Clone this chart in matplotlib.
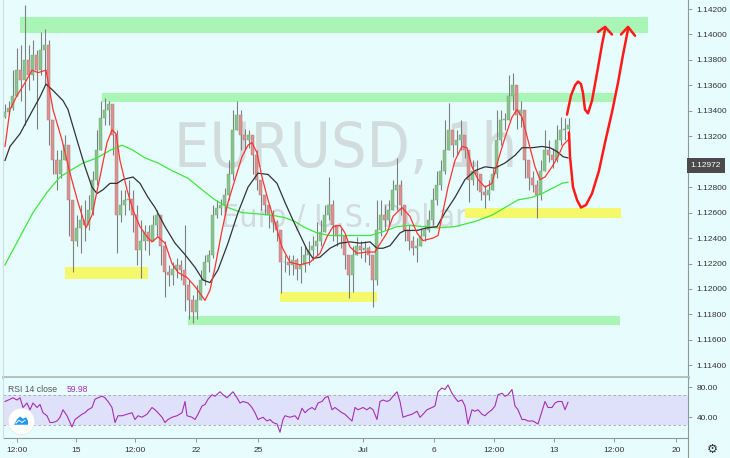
import numpy as np
import matplotlib.pyplot as plt
from matplotlib.ticker import MultipleLocator, FuncFormatter
from matplotlib.lines import Line2D
from matplotlib.transforms import blended_transform_factory

plt.rcParams['font.family'] = ['Liberation Sans', 'DejaVu Sans']

closes = [1.1339, 1.1342, 1.1352, 1.1372, 1.1364, 1.1380, 1.1368, 1.1384, 1.1372, 1.1388,
          1.1392, 1.1333, 1.1301, 1.1290, 1.1301, 1.1313, 1.1270, 1.1238, 1.1248, 1.1254,
          1.1250, 1.1262, 1.1286, 1.1309, 1.1334, 1.1341, 1.1345, 1.1321, 1.1258, 1.1266,
          1.1270, 1.1271, 1.1258, 1.1231, 1.1238, 1.1245, 1.1238, 1.1250, 1.1258, 1.1234,
          1.1213, 1.1211, 1.1216, 1.1219, 1.1215, 1.1203, 1.1191, 1.1182, 1.1191, 1.1207,
          1.1221, 1.1227, 1.1258, 1.1264, 1.1266, 1.1274, 1.1290, 1.1325, 1.1337, 1.1321,
          1.1317, 1.1321, 1.1305, 1.1286, 1.1274, 1.1266, 1.1258, 1.1253, 1.1246, 1.1221,
          1.1221, 1.1219, 1.1223, 1.1216, 1.1219, 1.1227, 1.1231, 1.1234, 1.1238, 1.1245,
          1.1258, 1.1266, 1.1250, 1.1242, 1.1242, 1.1227, 1.1211, 1.1227, 1.1234, 1.1231,
          1.1232, 1.1227, 1.1207, 1.1246, 1.1258, 1.1254, 1.1262, 1.1278, 1.1282, 1.1266,
          1.1246, 1.1238, 1.1232, 1.1234, 1.1242, 1.1246, 1.1254, 1.1270, 1.1282, 1.1293,
          1.1309, 1.1325, 1.1313, 1.1317, 1.1321, 1.1309, 1.1286, 1.1293, 1.1290, 1.1276,
          1.1274, 1.1278, 1.1290, 1.1317, 1.1333, 1.1333, 1.1352, 1.1360, 1.1337, 1.1341,
          1.1301, 1.1287, 1.1282, 1.1274, 1.1293, 1.1309, 1.1305, 1.1301, 1.1317, 1.1325,
          1.1326, 1.1329]
highs = [1.1345, 1.1348, 1.1372, 1.1389, 1.1392, 1.1423, 1.1392, 1.1396, 1.1388, 1.1402,
         1.1404, 1.1396, 1.1317, 1.1309, 1.1309, 1.1321, 1.1309, 1.1262, 1.1258, 1.1266,
         1.1270, 1.1274, 1.1293, 1.1325, 1.1348, 1.1350, 1.1348, 1.1342, 1.1325, 1.1278,
         1.1278, 1.1286, 1.1278, 1.1266, 1.1254, 1.1250, 1.1250, 1.1258, 1.1262, 1.1258,
         1.1238, 1.1219, 1.1221, 1.1224, 1.1223, 1.1250, 1.1207, 1.1195, 1.1203, 1.1215,
         1.1227, 1.1231, 1.1266, 1.1270, 1.1271, 1.1279, 1.1301, 1.1341, 1.1348, 1.1341,
         1.1326, 1.1325, 1.1321, 1.1309, 1.1286, 1.1274, 1.1266, 1.1262, 1.1254, 1.1246,
         1.1227, 1.1227, 1.1227, 1.1224, 1.1234, 1.1234, 1.1238, 1.1242, 1.1253, 1.1254,
         1.1266, 1.1288, 1.1270, 1.1250, 1.1248, 1.1238, 1.1227, 1.1234, 1.1241, 1.1238,
         1.1238, 1.1234, 1.1227, 1.1270, 1.1270, 1.1266, 1.1270, 1.1286, 1.1303, 1.1286,
         1.1262, 1.1250, 1.1242, 1.1240, 1.1248, 1.1250, 1.1262, 1.1279, 1.1293, 1.1301,
         1.1333, 1.1346, 1.1326, 1.1325, 1.1333, 1.1317, 1.1309, 1.1301, 1.1301, 1.1286,
         1.1282, 1.1286, 1.1295, 1.1341, 1.1341, 1.1338, 1.1368, 1.1370, 1.1348, 1.1348,
         1.1337, 1.1297, 1.1293, 1.1286, 1.1301, 1.1325, 1.1317, 1.1311, 1.1329, 1.1335,
         1.1334, 1.1334]
lows = [1.1334, 1.1337, 1.1341, 1.1352, 1.1348, 1.1329, 1.1356, 1.1364, 1.1326, 1.1368,
        1.1360, 1.1313, 1.1290, 1.1278, 1.1287, 1.1301, 1.1242, 1.1213, 1.1234, 1.1228,
        1.1238, 1.1246, 1.1258, 1.1282, 1.1317, 1.1329, 1.1329, 1.1305, 1.1228, 1.1253,
        1.1258, 1.1262, 1.1245, 1.1219, 1.1209, 1.1231, 1.1227, 1.1238, 1.1242, 1.1219,
        1.1194, 1.1202, 1.1203, 1.1209, 1.1207, 1.1183, 1.1176, 1.1173, 1.1176, 1.1195,
        1.1203, 1.1213, 1.1224, 1.1256, 1.1258, 1.1258, 1.1270, 1.1286, 1.1325, 1.1309,
        1.1309, 1.1311, 1.1290, 1.1278, 1.1262, 1.1258, 1.1248, 1.1245, 1.1238, 1.1197,
        1.1213, 1.1211, 1.1211, 1.1207, 1.1205, 1.1213, 1.1219, 1.1223, 1.1227, 1.1234,
        1.1246, 1.1254, 1.1238, 1.1234, 1.1232, 1.1216, 1.1193, 1.1198, 1.1227, 1.1224,
        1.1221, 1.1219, 1.1186, 1.1203, 1.1242, 1.1246, 1.1250, 1.1262, 1.1262, 1.1258,
        1.1238, 1.1231, 1.1227, 1.1221, 1.1237, 1.1238, 1.1245, 1.1250, 1.1266, 1.1278,
        1.1290, 1.1309, 1.1304, 1.1305, 1.1309, 1.1303, 1.1268, 1.1282, 1.1278, 1.1270,
        1.1264, 1.1270, 1.1278, 1.1287, 1.1313, 1.1325, 1.1333, 1.1341, 1.1326, 1.1327,
        1.1287, 1.1278, 1.1276, 1.1256, 1.1270, 1.1297, 1.1300, 1.1295, 1.1300, 1.1313,
        1.1317, 1.1323]
first_open = 1.1335
last_price = 1.12972

# gleitende Durchschnitte (rot, schwarz, gruen)
ma_fast_x = [5, 10, 17, 25, 32, 38, 46, 53, 62, 70, 78, 86, 92, 100, 107, 112, 116, 120, 127, 133,
             140, 147, 152, 158, 165, 172, 178, 187, 195, 205, 210, 215, 222, 228, 235, 242, 248, 252, 257, 262,
             268, 275, 282, 290, 300, 310, 320, 327, 333, 340, 345, 350, 357, 367, 375, 378, 387, 393, 402, 410,
             417, 423, 433, 438, 442, 448, 455, 462, 467, 472, 478, 485, 492, 498, 505, 512, 517, 522, 528, 535,
             540, 545, 552, 558, 563, 568]
ma_fast = [1.1312, 1.1341, 1.1352, 1.1362, 1.1372, 1.1370, 1.1372, 1.1341, 1.1317, 1.1291,
           1.1268, 1.1248, 1.1258, 1.1288, 1.1315, 1.1325, 1.1322, 1.1301, 1.1278, 1.1262,
           1.1249, 1.1241, 1.1237, 1.1241, 1.1236, 1.1220, 1.1213, 1.1209, 1.1202, 1.1191,
           1.1199, 1.1217, 1.1246, 1.1268, 1.1286, 1.1304, 1.1313, 1.1315, 1.1307, 1.1288,
           1.1270, 1.1252, 1.1233, 1.1221, 1.1219, 1.1221, 1.1228, 1.1241, 1.1249, 1.1250,
           1.1244, 1.1233, 1.1228, 1.1229, 1.1229, 1.1233, 1.1244, 1.1257, 1.1264, 1.1257,
           1.1244, 1.1238, 1.1240, 1.1242, 1.1257, 1.1280, 1.1301, 1.1312, 1.1311, 1.1296,
           1.1286, 1.1280, 1.1283, 1.1301, 1.1319, 1.1335, 1.1341, 1.1335, 1.1317, 1.1296,
           1.1286, 1.1288, 1.1296, 1.1304, 1.1313, 1.1317]
ma_mid_x = [5, 10, 20, 33, 40, 46, 53, 63, 68, 77, 85, 92, 97, 103, 110, 117, 123, 133, 140, 148,
            155, 165, 175, 185, 195, 203, 210, 218, 228, 238, 248, 258, 268, 277, 285, 293, 307, 313, 320, 330,
            340, 350, 360, 370, 377, 383, 390, 400, 405, 417, 427, 437, 445, 455, 465, 475, 485, 495, 505, 515,
            522, 532, 542, 550, 557, 563, 568]
ma_mid = [1.1301, 1.1312, 1.1322, 1.1341, 1.1351, 1.1361, 1.1356, 1.1348, 1.1341, 1.1317,
          1.1296, 1.1280, 1.1275, 1.1278, 1.1283, 1.1283, 1.1286, 1.1288, 1.1283, 1.1272,
          1.1264, 1.1249, 1.1236, 1.1227, 1.1217, 1.1207, 1.1205, 1.1215, 1.1236, 1.1260,
          1.1280, 1.1291, 1.1290, 1.1283, 1.1268, 1.1254, 1.1231, 1.1224, 1.1225, 1.1232,
          1.1236, 1.1237, 1.1236, 1.1237, 1.1232, 1.1232, 1.1234, 1.1244, 1.1246, 1.1246,
          1.1248, 1.1249, 1.1260, 1.1272, 1.1286, 1.1293, 1.1296, 1.1295, 1.1299, 1.1305,
          1.1311, 1.1311, 1.1312, 1.1311, 1.1308, 1.1304, 1.1303]
ma_slow_x = [5, 20, 33, 47, 60, 70, 83, 97, 110, 122, 133, 145, 158, 172, 188, 202, 215, 228, 242, 258,
             272, 285, 295, 303, 317, 330, 343, 357, 370, 383, 397, 410, 423, 437, 455, 475, 492, 505, 518, 532,
             542, 552, 562, 568]
ma_slow = [1.1219, 1.1241, 1.1260, 1.1276, 1.1288, 1.1293, 1.1299, 1.1303, 1.1309, 1.1313,
           1.1309, 1.1303, 1.1299, 1.1293, 1.1287, 1.1278, 1.1270, 1.1264, 1.1260, 1.1259,
           1.1258, 1.1256, 1.1253, 1.1249, 1.1244, 1.1242, 1.1242, 1.1242, 1.1242, 1.1245,
           1.1249, 1.1250, 1.1249, 1.1248, 1.1249, 1.1253, 1.1258, 1.1264, 1.1270, 1.1272,
           1.1275, 1.1279, 1.1283, 1.1284]

# Zonen: (von, bis, unten, oben)
green_zones = [(20, 648, 1.1401, 1.1414), (102, 614, 1.1347, 1.1354), (188, 620, 1.1172, 1.1179)]
yellow_zones = [(65, 148, 1.1208, 1.1217), (280, 377, 1.1190, 1.1198), (465, 621, 1.1256, 1.1264)]

# Handzeichnung (rote Pfeile)
path1_x = [567, 571, 575, 578, 581, 583, 585, 588, 592, 598, 602, 605]
path1_y = [1.1337, 1.1352, 1.1360, 1.1363, 1.1361, 1.1354, 1.1341, 1.1338, 1.1348, 1.1374, 1.1392, 1.1404]
head1_x = [598, 605, 612]
head1_y = [1.1402, 1.1406, 1.1400]
path2_x = [569, 570, 573, 577, 581, 586, 592, 599, 605, 612, 618, 623, 628]
path2_y = [1.1323, 1.1304, 1.1280, 1.1270, 1.1264, 1.1266, 1.1275, 1.1293, 1.1315, 1.1339, 1.1362, 1.1384, 1.1404]
head2_x = [621, 628, 635]
head2_y = [1.1400, 1.1406, 1.1399]

# RSI 14
rsi_x = [5, 10, 13, 17, 20, 23, 27, 30, 33, 37, 40, 43, 47, 50, 53, 57, 60, 63, 67, 70,
         72, 75, 78, 82, 85, 88, 92, 95, 98, 102, 105, 108, 112, 115, 118, 122, 127, 132, 135, 138,
         142, 147, 152, 155, 158, 162, 165, 168, 172, 177, 182, 185, 187, 192, 195, 198, 202, 205, 208, 212,
         215, 220, 223, 227, 230, 233, 237, 240, 243, 248, 252, 255, 258, 263, 267, 270, 273, 277, 280, 283,
         285, 290, 295, 298, 302, 305, 308, 312, 315, 318, 322, 325, 328, 332, 335, 338, 342, 345, 348, 352,
         355, 358, 363, 367, 370, 373, 377, 380, 383, 387, 390, 393, 397, 400, 403, 407, 412, 417, 420, 423,
         427, 432, 435, 438, 442, 445, 448, 452, 455, 458, 462, 465, 468, 472, 475, 478, 482, 485, 488, 492,
         495, 498, 502, 505, 508, 512, 515, 518, 522, 525, 528, 533, 538, 542, 545, 548, 552, 555, 558, 562,
         565, 568]
rsi = [61, 64, 66, 63, 66, 53, 59, 50, 59, 53, 57, 46, 42, 33, 33, 35, 40, 50, 42, 33,
       27, 37, 40, 44, 46, 50, 53, 64, 66, 68, 66, 61, 53, 33, 42, 42, 44, 46, 37, 42,
       40, 44, 53, 50, 46, 40, 33, 37, 40, 42, 46, 61, 42, 40, 37, 44, 55, 57, 64, 70,
       68, 74, 70, 66, 70, 74, 66, 59, 61, 59, 53, 46, 37, 40, 35, 37, 33, 31, 20, 37,
       42, 40, 42, 37, 52, 46, 50, 53, 50, 59, 61, 66, 68, 50, 53, 50, 46, 44, 40, 35,
       53, 50, 53, 50, 53, 50, 37, 61, 63, 61, 63, 68, 74, 61, 40, 42, 44, 48, 40, 44,
       50, 53, 55, 74, 79, 77, 83, 72, 66, 61, 63, 55, 31, 50, 48, 50, 44, 42, 46, 50,
       55, 70, 72, 68, 70, 77, 55, 50, 37, 37, 35, 35, 31, 48, 61, 53, 53, 59, 61, 61,
       50, 60]
rsi_last = 59.98

tick_pos = [17, 76, 135, 196, 258, 363, 434, 494, 554, 614, 676]
tick_labels = ['12:00', '15', '12:00', '22', '25', 'Jul', '6', '12:00', '13', '12:00', '20']

BG = '#e7fcfc'
WM = '#d2dcdc'
W, H = 730, 458

fig = plt.figure(figsize=(7.3, 4.58), dpi=100, facecolor=BG)
ax = fig.add_axes([3 / W, 81.5 / H, 685 / W, 376.5 / H], facecolor=BG)
ax_r = fig.add_axes([3 / W, 20.5 / H, 685 / W, 60 / H], facecolor=BG, sharex=ax)

ax.set_xlim(3, 688)
ax.set_ylim(1.11312, 1.14271)

# Zonen
for x0, x1, lo, hi in green_zones:
    ax.fill_between([x0, x1], lo, hi, color='#a9f5b6', lw=0, zorder=1)
for x0, x1, lo, hi in yellow_zones:
    ax.fill_between([x0, x1], lo, hi, color='#f4f86a', lw=0, zorder=1)

# Kerzen
c = np.array(closes)
o = np.r_[first_open, c[:-1]]
h = np.maximum(np.array(highs), np.maximum(o, c))
l = np.minimum(np.array(lows), np.minimum(o, c))
x = np.arange(len(c)) * 4 + 5
up = c >= o
ax.vlines(x, l, h, color='#7f7f7f', lw=0.8, zorder=2)
body = np.maximum(np.abs(c - o), 0.00004)
ax.bar(x[up], body[up], bottom=o[up], width=3.0, color='#86c68b', edgecolor='#7f9a80', lw=0.3, zorder=2.1)
ax.bar(x[~up], body[~up], bottom=c[~up], width=3.0, color='#e08f8f', edgecolor='#9a8080', lw=0.3, zorder=2.1)

# Durchschnitte
ax.plot(ma_slow_x, ma_slow, color='#3ee63e', lw=0.9, zorder=3)
ax.plot(ma_mid_x, ma_mid, color='#333333', lw=0.9, zorder=3)
ax.plot(ma_fast_x, ma_fast, color='#ff3333', lw=0.9, zorder=3)

# Pfeile
for px, py in [(path1_x, path1_y), (head1_x, head1_y), (path2_x, path2_y), (head2_x, head2_y)]:
    ax.plot(px, py, color='#ff1a1a', lw=1.8, solid_capstyle='round', solid_joinstyle='round', zorder=4)

# Wasserzeichen
ax.text(0.5, 0.602, 'EURUSD, 1h', transform=ax.transAxes, fontsize=45, color=WM,
        ha='center', va='center', zorder=0.5, family='DejaVu Sans', fontstretch='condensed')
ax.text(0.498, 0.42, 'Euro / U.S. Dollar', transform=ax.transAxes, fontsize=23, color=WM,
        ha='center', va='center', zorder=0.5, family='DejaVu Sans', fontstretch='condensed')

# Preisachse rechts, Beschriftung unter dem Kursfeld ausgeblendet
ax.yaxis.tick_right()
ax.yaxis.set_major_locator(MultipleLocator(0.002))
ax.yaxis.set_major_formatter(FuncFormatter(lambda v, p: '' if abs(v - last_price) < 0.0006 else f'{v:.5f}'))
ax.tick_params(axis='y', labelsize=6, colors='#333333', length=3, width=0.6, pad=3)
ax.tick_params(axis='y', color='#888888')
ax.tick_params(axis='x', bottom=False, labelbottom=False)
for s in ['top', 'left']:
    ax.spines[s].set_visible(False)
ax.spines['right'].set_color('#8f9a9a')
ax.spines['right'].set_linewidth(0.8)
ax.spines['bottom'].set_color('#b3bdbd')
ax.spines['bottom'].set_linewidth(2)

trans = blended_transform_factory(ax.transAxes, ax.transData)
ax.text(1.004, last_price, '1.12972', transform=trans, ha='left', va='center', fontsize=6, color='white',
        bbox=dict(boxstyle='square,pad=0.45', fc='#4b4b4b', ec='none'), zorder=5, clip_on=False)

# RSI
ax_r.set_ylim(13, 93)
ax_r.axhspan(30, 70, color='#dfe1fb', lw=0, zorder=0)
ax_r.axhline(30, color='#a3a3a3', lw=0.6, ls=(0, (3, 3)))
ax_r.axhline(70, color='#a3a3a3', lw=0.6, ls=(0, (3, 3)))
ax_r.plot(rsi_x, rsi, color='#a52fb5', lw=0.8, zorder=3)
ax_r.text(8, 77, 'RSI 14 close', fontsize=6.2, color='#555555', va='center', ha='left')
ax_r.text(67, 77, f'{rsi_last:.2f}', fontsize=6.2, color='#a52fb5', va='center', ha='left')

# TradingView-Logo
ax_r.plot([21], [35], marker='o', ms=19, mfc='white', mec='#e3e8e8', mew=0.5, zorder=5, clip_on=False)
ax_r.fill([14, 17, 20, 23, 26, 28, 28, 14], [30, 37, 41, 38, 40, 35, 30, 30], color='#2196f3', lw=0, zorder=6)
ax_r.plot([16, 19, 22, 25], [32, 36, 33, 36], color='white', lw=0.7, zorder=7)

ax_r.yaxis.tick_right()
ax_r.set_yticks([40, 80])
ax_r.set_yticklabels(['40.00', '80.00'])
ax_r.set_xticks(tick_pos)
ax_r.set_xticklabels(tick_labels)
ax_r.tick_params(axis='y', labelsize=6, colors='#333333', length=3, width=0.6, pad=3)
ax_r.tick_params(axis='x', labelsize=6, colors='#333333', length=3, width=0.6, pad=4)
ax_r.tick_params(color='#888888')
ax_r.spines['top'].set_visible(False)
ax_r.spines['left'].set_visible(False)
ax_r.spines['right'].set_color('#8f9a9a')
ax_r.spines['right'].set_linewidth(0.8)
ax_r.spines['bottom'].set_color('#8f9a9a')
ax_r.spines['bottom'].set_linewidth(0.8)

fig.add_artist(Line2D([688 / W, 688 / W], [0, 20.5 / H], transform=fig.transFigure, color='#8f9a9a', lw=0.8))
fig.add_artist(Line2D([3 / W, 3 / W], [20.5 / H, 1], transform=fig.transFigure, color='#d3dcdc', lw=0.8))
fig.text(712 / W, 1 - 449 / H, '\u2699', fontsize=9, color='#333333', ha='center', va='center',
         family='DejaVu Sans')

fig.savefig('out.png', dpi=100, facecolor=BG)
